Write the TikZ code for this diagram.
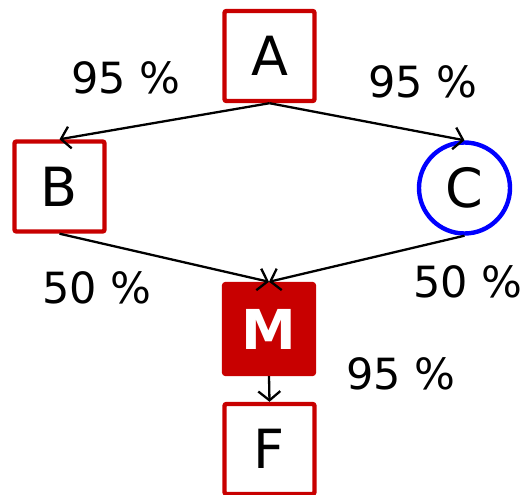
\documentclass[tikz,border=0pt]{standalone}
\usepackage{fontspec}
\setmainfont{DejaVu Sans}
\usepackage{tikz}
\usetikzlibrary{arrows.meta}
\definecolor{boxred}{RGB}{200,0,0}
\tikzstyle{block} = [rectangle, draw=boxred, line width=4.4pt, fill=white,
                 rounded corners=2pt, minimum size=90pt, inner sep=0pt,
                 font=\fontsize{54}{54}\selectfont]
\tikzstyle{branch} = [line width=2.3pt, draw,
                 -{Straight Barb[length=9pt,width=22pt]}]
\tikzset{
	percent/.style={font=\fontsize{43}{43}\selectfont},
	merge/.style={block, fill=boxred, font=\fontsize{55}{55}\selectfont\bfseries,
		text=white},
	chance/.style={circle, draw=blue, line width=4.4pt, fill=white,
		minimum size=91pt, inner sep=0pt, font=\fontsize{54}{54}\selectfont},
}

\begin{document}
\begin{tikzpicture}[x=1pt, y=-1pt]
\useasboundingbox (0,0) rectangle (528,495);

\node [block] at (269.5,56) (a) {A};
\node [block] at (59.5,186.5) (b) {B};
\node [chance] at (464.5,188) (c) {C};
\node [merge] at (269,329) (m) {M};
\node [block] at (269.5,449) (f) {F};

\path [branch] (a.south) -- (b.north);
\path [branch] (a.south) -- (c.north);
\path [branch] (b.south) -- (m.north);
\path [branch] (c.south) -- (m.north);
\path [branch] (m.south) -- (f.north);

% edge probabilities
\node [percent] at (126,78) (pab) {95 \%};
\node [percent] at (423,82) (pac) {95 \%};
\node [percent] at (97,288) (pbm) {50 \%};
\node [percent] at (468,282) (pcm) {50 \%};
\node [percent] at (401,374) (pmf) {95 \%};

\end{tikzpicture}
\end{document}
